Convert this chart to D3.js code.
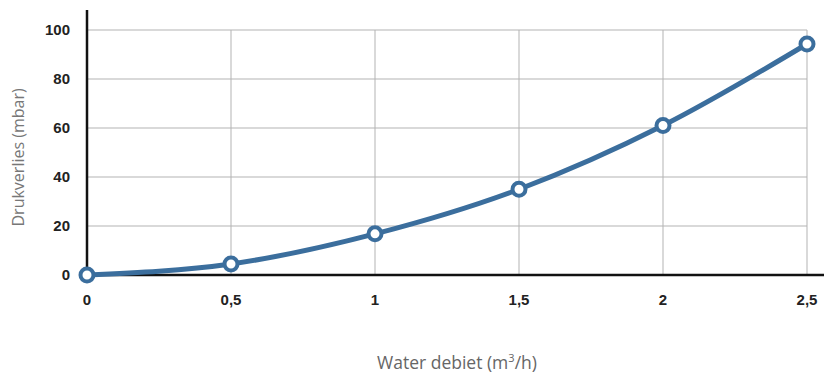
<!DOCTYPE html>
<html>
<head>
<meta charset="utf-8">
<script src="https://cdn.jsdelivr.net/npm/d3@7"></script>
<style>
  body { margin: 0; background: #fff; }
</style>
</head>
<body>
<div id="chart"></div>
<script>
// data
const flow = [0, 0.5, 1, 1.5, 2, 2.5];
const pressureLoss = [0, 4.5, 16.8, 35, 61, 94.3];
const xTicks = [0, 0.5, 1, 1.5, 2, 2.5];
const yTicks = [0, 20, 40, 60, 80, 100];

const W = 824, H = 378;
const margin = {top: 30, right: 17, bottom: 103, left: 87};
const width = W - margin.left - margin.right,
      height = H - margin.top - margin.bottom;

const svg = d3.select("#chart").append("svg")
    .attr("width", W)
    .attr("height", H)
  .append("g")
    .attr("transform", `translate(${margin.left},${margin.top})`);

const x = d3.scaleLinear().domain([0, 2.5]).range([0, width]);
const y = d3.scaleLinear().domain([0, 100]).range([height, 0]);

const fmt = d => String(d).replace(".", ",");

// grid lines
svg.append("g")
  .selectAll("line")
  .data(yTicks.slice(1))
  .join("line")
    .attr("x1", 0)
    .attr("x2", width)
    .attr("y1", d => y(d))
    .attr("y2", d => y(d))
    .attr("stroke", "#b3b3b3")
    .attr("stroke-width", 1);

svg.append("g")
  .selectAll("line")
  .data(xTicks.slice(1))
  .join("line")
    .attr("x1", d => x(d))
    .attr("x2", d => x(d))
    .attr("y1", y(100))
    .attr("y2", height)
    .attr("stroke", "#b3b3b3")
    .attr("stroke-width", 1);

// axis lines
svg.append("line")
  .attr("x1", 0).attr("x2", 0)
  .attr("y1", -20).attr("y2", height)
  .attr("stroke", "#111").attr("stroke-width", 2.5);
svg.append("line")
  .attr("x1", 0).attr("x2", W - margin.left)
  .attr("y1", height).attr("y2", height)
  .attr("stroke", "#111").attr("stroke-width", 2.5);

// tick labels
svg.append("g")
  .selectAll("text")
  .data(yTicks)
  .join("text")
    .attr("x", -17)
    .attr("y", d => y(d))
    .attr("dy", "0.36em")
    .attr("text-anchor", "end")
    .style("font-family", "'Liberation Sans', Arial, sans-serif")
    .style("font-size", "15px")
    .style("font-weight", "bold")
    .style("fill", "#222")
    .text(d => d);

svg.append("g")
  .selectAll("text")
  .data(xTicks)
  .join("text")
    .attr("x", d => x(d))
    .attr("y", height + 30)
    .attr("text-anchor", "middle")
    .style("font-family", "'Liberation Sans', Arial, sans-serif")
    .style("font-size", "15px")
    .style("font-weight", "bold")
    .style("fill", "#222")
    .text(fmt);

// axis titles
svg.append("text")
  .attr("transform", `translate(${-margin.left + 24},${y(48)}) rotate(-90)`)
  .attr("text-anchor", "middle")
  .style("font-family", "'Open Sans', sans-serif")
  .style("font-size", "16px")
  .style("fill", "#777")
  .text("Drukverlies (mbar)");

const xt = svg.append("text")
  .attr("x", 370)
  .attr("y", height + 94)
  .attr("text-anchor", "middle")
  .style("font-family", "'Open Sans', sans-serif")
  .style("font-size", "17.5px")
  .style("fill", "#666");
xt.append("tspan").text("Water debiet (m");
xt.append("tspan").attr("baseline-shift", "super").style("font-size", "11px").text("3");
xt.append("tspan").text("/h)");

// line
const pts = flow.map((f, i) => [f, pressureLoss[i]]);
const line = d3.line()
  .x(d => x(d[0]))
  .y(d => y(d[1]))
  .curve(d3.curveMonotoneX);

svg.append("path")
  .datum(pts)
  .attr("d", line)
  .attr("fill", "none")
  .attr("stroke", "#3b6e9d")
  .attr("stroke-width", 5);

svg.append("g")
  .selectAll("circle")
  .data(pts)
  .join("circle")
    .attr("cx", d => x(d[0]))
    .attr("cy", d => y(d[1]))
    .attr("r", 6.5)
    .attr("fill", "#fff")
    .attr("stroke", "#3b6e9d")
    .attr("stroke-width", 4);
</script>
</body>
</html>
